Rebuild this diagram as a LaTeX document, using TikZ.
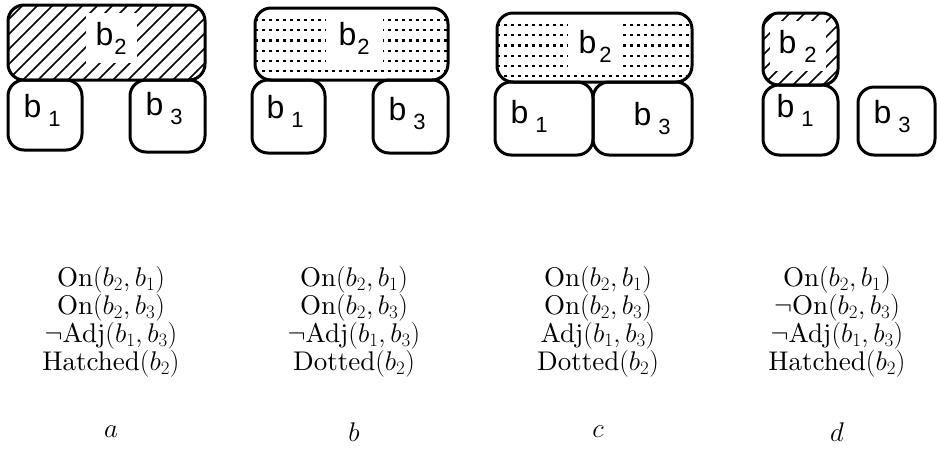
\RequirePackage{fix-cm}
\documentclass[tikz,border=0pt]{standalone}
\usepackage{fontspec}
\setmainfont{lmroman10-regular.otf}
\newfontfamily\blockfont{Liberation Sans}
\newcommand{\blab}[2][7pt]{b\kern#1\raisebox{-9pt}{\fontsize{22}{22}\selectfont #2}}
\tikzset{
  blk/.style={draw, line width=3pt, rounded corners=16pt, inner sep=0pt},
  hatched/.style={path picture={
    \foreach \k in {-10,...,20}
      \draw[line width=1.5pt] ([xshift=\k*15pt]path picture bounding box.south west) -- ++(120pt,120pt);}},
  dotfill/.style={path picture={
    \foreach \r in {0,...,5}
      \draw[line width=2.2pt, dash pattern=on 2.5pt off 4.5pt] ([yshift=-12pt-\r*10.2pt]path picture bounding box.north west) -- ++(300pt,0pt);}},
  lab/.style={anchor=text, inner sep=0pt, font=\blockfont\fontsize{32}{32}\selectfont},
  toplab/.style={lab, fill=white, inner xsep=10pt, inner ysep=9pt},
  facts/.style={align=center, font=\fontsize{27}{25.5}\selectfont},
  capt/.style={font=\fontsize{27}{27}\selectfont}
}
\begin{document}
\begin{tikzpicture}[x=1pt, y=-1pt]
    \useasboundingbox (0,0) rectangle (937,451);

    % a: hatched b2 on b1 and b3
    \node[blk, hatched, minimum width=197pt, minimum height=75pt] (a2) at (106.5,42.5) {};
    \node[blk, minimum width=74pt, minimum height=70pt] (a1) at (45,115) {};
    \node[blk, minimum width=75pt, minimum height=72pt] (a3) at (167.5,116) {};
    \node[toplab] (a2l) at (95.5,45) {\blab[1pt]{2}};
    \node[lab] (a1l) at (23.5,117) {\blab{1}};
    \node[lab] (a3l) at (145.5,115) {\blab{3}};

    % b: dotted b2 on b1 and b3
    \node[blk, dotfill, minimum width=193pt, minimum height=72pt] (b2) at (351.5,44) {};
    \node[blk, minimum width=73pt, minimum height=73pt] (b1) at (288.5,116.5) {};
    \node[blk, minimum width=75pt, minimum height=73pt] (b3) at (410.5,116.5) {};
    \node[toplab, inner xsep=13pt] (b2l) at (338.5,45) {\blab[1pt]{2}};
    \node[lab] (b1l) at (266.5,118) {\blab{1}};
    \node[lab] (b3l) at (388.5,120) {\blab{3}};

    % c: dotted b2, b1 and b3 adjacent
    \node[blk, dotfill, minimum width=195pt, minimum height=69pt] (c2) at (594.5,47.5) {};
    \node[blk, minimum width=98pt, minimum height=73pt] (c1) at (544,118.5) {};
    \node[blk, minimum width=99pt, minimum height=73pt] (c3) at (642.5,118.5) {};
    \node[toplab, inner xsep=11pt] (c2l) at (578.5,53) {\blab[3pt]{2}};
    \node[lab] (c1l) at (510.5,123) {\blab{1}};
    \node[lab] (c3l) at (633.5,125) {\blab{3}};

    % d: hatched b2 on b1 only
    \node[blk, hatched, minimum width=75pt, minimum height=72pt] (d2) at (800.5,49) {};
    \node[blk, minimum width=75pt, minimum height=70pt] (d1) at (800.5,120) {};
    \node[blk, minimum width=77pt, minimum height=68pt] (d3) at (896.5,121) {};
    \node[toplab, inner xsep=9pt] (d2l) at (778.5,53) {\blab[8pt]{2}};
    \node[lab] (d1l) at (776.5,117) {\blab{1}};
    \node[lab] (d3l) at (873.5,123) {\blab{3}};

    % Descriptions
    \node[facts] (fa) at (111,322) {On$(b_2,b_1)$\\On$(b_2,b_3)$\\$\neg$Adj$(b_1,b_3)$\\Hatched$(b_2)$};
    \node[facts] (fb) at (354,322) {On$(b_2,b_1)$\\On$(b_2,b_3)$\\$\neg$Adj$(b_1,b_3)$\\Dotted$(b_2)$};
    \node[facts] (fc) at (598,322) {On$(b_2,b_1)$\\On$(b_2,b_3)$\\Adj$(b_1,b_3)$\\Dotted$(b_2)$};
    \node[facts] (fd) at (837,322) {On$(b_2,b_1)$\\$\neg$On$(b_2,b_3)$\\$\neg$Adj$(b_1,b_3)$\\Hatched$(b_2)$};

    % Captions
    \node[capt] (ca) at (111,432) {$a$};
    \node[capt] (cb) at (354,432) {$b$};
    \node[capt] (cc) at (598,432) {$c$};
    \node[capt] (cd) at (837,432) {$d$};
\end{tikzpicture}
\end{document}
